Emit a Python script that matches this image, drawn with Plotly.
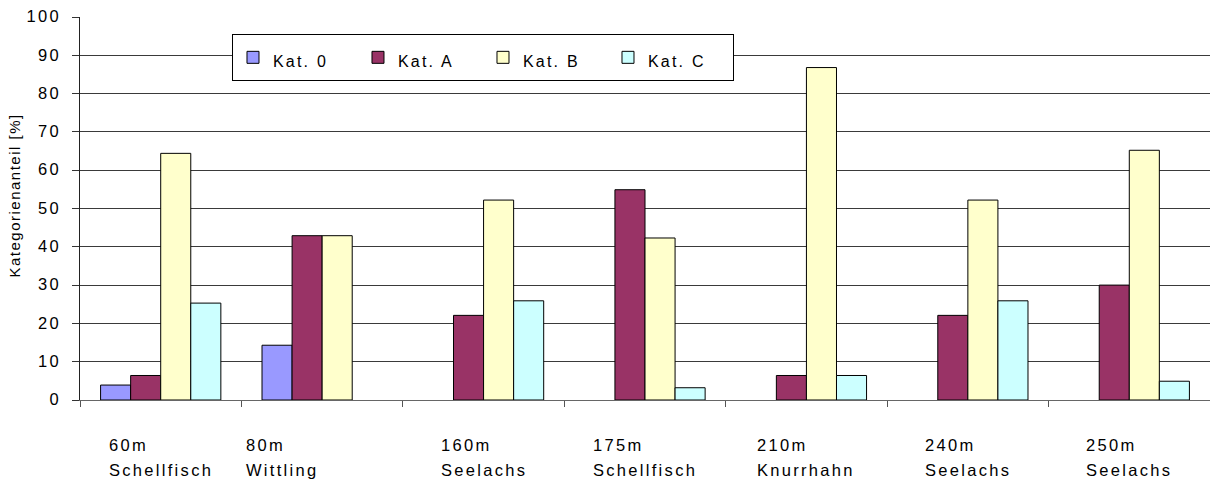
import plotly.graph_objects as go

# Fang-Stationen (Tiefe + Zielart) und Kategorienanteile in %
depths = ["60m", "80m", "160m", "175m", "210m", "240m", "250m"]
species = ["Schellfisch", "Wittling", "Seelachs", "Schellfisch", "Knurrhahn", "Seelachs", "Seelachs"]

kat_0 = [3.9, 14.3, 0, 0, 0, 0, 0]
kat_a = [6.4, 42.9, 22.1, 54.9, 6.4, 22.1, 30.0]
kat_b = [64.4, 42.9, 52.2, 42.3, 86.8, 52.2, 65.2]
kat_c = [25.3, 0, 25.9, 3.2, 6.4, 25.9, 4.9]

series_names = ["Kat. 0", "Kat. A", "Kat. B", "Kat. C"]
series_values = [kat_0, kat_a, kat_b, kat_c]
series_colors = ["#9999FF", "#993366", "#FFFFCC", "#CCFFFF"]

y_ticks = list(range(0, 101, 10))

FONT = "Liberation Sans, Arial, sans-serif"


def spaced(text, size=16.5, spacing=2.3):
    return f"<span style='font-size:{size}px;letter-spacing:{spacing}px'>{text}</span>"


cat_keys = [f"{d} {s}" for d, s in zip(depths, species)]

fig = go.Figure()
for name, vals, color in zip(series_names, series_values, series_colors):
    fig.add_trace(go.Bar(
        x=cat_keys, y=vals, name=spaced(name, 16, 2.2),
        marker=dict(color=color,
                    line=dict(color="#000000",
                              width=[1 if v > 0 else 0 for v in vals])),
    ))

# two-line category labels below the axis
label_shift = {1: -40}
for i, (d, s) in enumerate(zip(depths, species)):
    fig.add_annotation(
        x=cat_keys[i], xref="x", y=-0.09, yref="paper",
        xanchor="center", yanchor="top", align="left",
        text=spaced(d) + "<br>" + spaced(s),
        showarrow=False, xshift=label_shift.get(i, 0),
        font=dict(family=FONT, size=19, color="#000000"),
    )

# rotated axis title
fig.add_annotation(
    x=-0.058, xref="paper", y=0.535, yref="paper",
    xanchor="center", yanchor="middle", textangle=-90,
    text=spaced("Kategorienanteil [%]", 15, 1.5), showarrow=False,
    font=dict(family=FONT, size=15, color="#000000"),
)

fig.update_layout(
    width=1210, height=486,
    margin=dict(l=80, r=0, t=17, b=86),
    paper_bgcolor="#ffffff", plot_bgcolor="#ffffff",
    barmode="group", bargap=0.255, bargroupgap=0,
    font=dict(family=FONT, size=15, color="#000000"),
    showlegend=True,
    legend=dict(
        orientation="h", x=0.1345, xanchor="left", y=0.955, yanchor="top",
        bgcolor="#ffffff", bordercolor="#000000", borderwidth=1,
        font=dict(family=FONT, size=24, color="#000000"),
        entrywidth=80, entrywidthmode="pixels",
        traceorder="normal",
    ),
    xaxis=dict(
        type="category", tickson="boundaries", ticks="outside", ticklen=6,
        tickcolor="#555555", showticklabels=False, showgrid=False,
        showline=True, linecolor="#666666", linewidth=1,
        range=[-0.5, 6.5], fixedrange=True,
    ),
    yaxis=dict(
        range=[0, 100], tickvals=y_ticks,
        ticktext=[spaced(v) for v in y_ticks],
        ticks="outside", ticklen=7, tickcolor="#333333",
        showgrid=True, gridcolor="#3a3a3a", gridwidth=1,
        showline=True, linecolor="#222222", linewidth=1,
        zeroline=False, ticklabelstandoff=8,
    ),
)

fig.write_html("out.html")
